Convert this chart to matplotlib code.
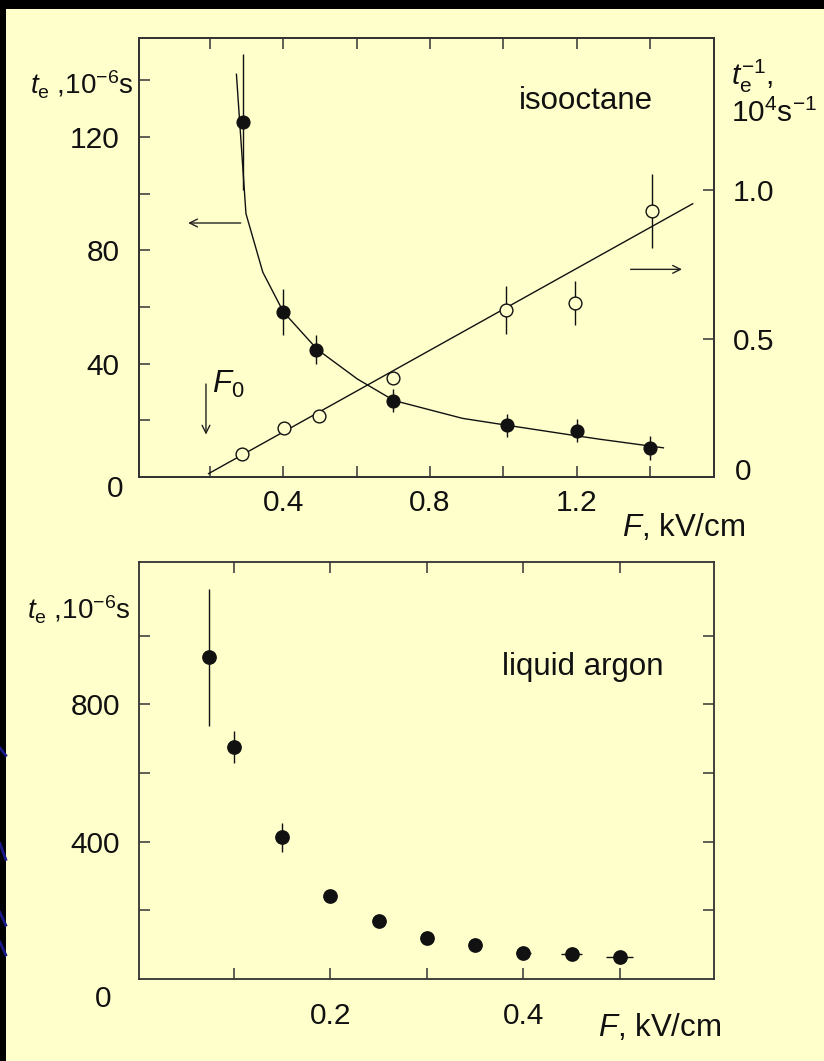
import matplotlib
matplotlib.use('Agg')
import matplotlib.pyplot as plt
import matplotlib.patches as mpatches
from matplotlib.lines import Line2D
from matplotlib.ticker import FixedLocator, NullFormatter

plt.rcParams['font.family'] = ['Liberation Sans', 'DejaVu Sans']
plt.rcParams['mathtext.fontset'] = 'custom'
plt.rcParams['mathtext.rm'] = 'Liberation Sans'
plt.rcParams['mathtext.it'] = 'Liberation Sans:italic'

CREAM = '#FFFFCC'
INK = '#111111'
SPINE = '#333333'

# ---------------- data: isooctane ----------------
iso_F = [0.29, 0.40, 0.49, 0.70, 1.01, 1.20, 1.40]
iso_te = [125.4, 58.3, 45.0, 27.0, 18.2, 16.4, 10.3]
iso_te_err = [24, 8, 5, 4, 4, 4, 4.2]

iso_fit_F = [0.272, 0.298, 0.344, 0.40, 0.493, 0.602, 0.702, 0.889, 1.014, 1.197, 1.26, 1.437]
iso_fit_te = [142.2, 93.0, 72.3, 58.3, 45.0, 34.6, 27.0, 20.7, 18.2, 14.6, 13.4, 10.3]

iso_inv_F = [0.287, 0.401, 0.496, 0.70, 1.008, 1.197, 1.405]
iso_inv = [0.110, 0.198, 0.240, 0.366, 0.597, 0.620, 0.931]
iso_inv_err = [0, 0, 0, 0, 0.08, 0.075, 0.125]

iso_line_F = [0.196, 1.517]
iso_line_inv = [0.044, 0.955]

# ---------------- data: liquid argon ----------------
ar_F = [0.074, 0.10, 0.15, 0.20, 0.25, 0.30, 0.35, 0.40, 0.45, 0.50]
ar_te = [938, 677, 413, 240, 168, 118.5, 99, 76, 71, 62]
ar_te_err = [200, 47, 42, 0, 0, 0, 0, 0, 0, 0]
ar_F_err = [0, 0, 0, 0, 0, 0, 0, 0.008, 0.011, 0.014]

# tick values
iso_x_major = [0.4, 0.8, 1.2]
iso_x_minor = [0.2, 0.6, 1.0, 1.4]
iso_y_major = [40, 80, 120]
iso_y_minor = [20, 60, 100, 140]
iso_r_major = [0.5, 1.0]
ar_x_major = [0.2, 0.4]
ar_x_minor = [0.1, 0.3, 0.5]
ar_y_major = [400, 800]
ar_y_minor = [200, 600, 1000]

FS = 21.5      # tick labels
FL = 22.5      # other text
FY = 20        # axis unit labels

fig = plt.figure(figsize=(8.24, 10.61), dpi=100, facecolor='black')
fig.patches.append(mpatches.Rectangle((6 / 824, 0), 1 - 6 / 824, 1 - 9 / 1061,
                                      transform=fig.transFigure, facecolor=CREAM,
                                      edgecolor='none', zorder=-10))
# faint decorative slide curves in the left strip
for (x0, y0, x1, y1) in [(0.0, 0.295, 0.007, 0.288), (0.0, 0.140, 0.007, 0.128),
                         (0.0, 0.112, 0.007, 0.100), (0.0, 0.205, 0.007, 0.190)]:
    fig.add_artist(Line2D([x0, x1], [y0, y1], transform=fig.transFigure,
                          color='#1a1a8a', lw=2, zorder=-5))


def style(ax):
    ax.set_facecolor('none')
    for s in ax.spines.values():
        s.set_color(SPINE)
        s.set_linewidth(1.3)
    ax.tick_params(which='both', direction='in', length=8, width=1.1,
                   color=SPINE, labelsize=FS, labelcolor=INK)


# ---------------- top panel ----------------
ax1 = fig.add_axes([139.3 / 824, 1 - 477 / 1061, 574.3 / 824, 439 / 1061])
style(ax1)
ax1.set_xlim(0.007, 1.574)
ax1.set_ylim(0, 155)
ax1.xaxis.set_major_locator(FixedLocator(iso_x_major))
ax1.xaxis.set_minor_locator(FixedLocator(iso_x_minor))
ax1.yaxis.set_major_locator(FixedLocator(iso_y_major))
ax1.yaxis.set_minor_locator(FixedLocator(iso_y_minor))
ax1.xaxis.set_minor_formatter(NullFormatter())
ax1.yaxis.set_minor_formatter(NullFormatter())
ax1.tick_params(axis='x', which='both', top=True, bottom=True, pad=9)
ax1.tick_params(axis='y', which='both', left=True, right=False, pad=14)

ax1.plot(iso_fit_F, iso_fit_te, color=INK, lw=1.0, zorder=2)
ax1.errorbar(iso_F, iso_te, yerr=iso_te_err, fmt='o', ms=9.2, mfc=INK, mec=INK,
             ecolor=INK, elinewidth=1.0, capsize=0, zorder=4)

ax2 = ax1.twinx()
style(ax2)
ax2.set_ylim(0.0326, 1.5145)
ax2.yaxis.set_major_locator(FixedLocator(iso_r_major))
ax2.yaxis.set_major_formatter(plt.FuncFormatter(lambda v, p: f'{v:.1f}'))
ax2.tick_params(axis='y', which='both', right=True, left=False, pad=14)
ax2.plot(iso_line_F, iso_line_inv, color=INK, lw=1.0, zorder=2)
ax2.errorbar(iso_inv_F, iso_inv, yerr=iso_inv_err, fmt='o', ms=9.2, mfc=CREAM, mec=INK,
             mew=1.0, ecolor=INK, elinewidth=1.0, capsize=0, zorder=4)

# labels
ax1.text(-0.1, 0.893, r'$t_{\rm e}$ ,10$^{-6}$s', transform=ax1.transAxes,
         ha='center', va='center', fontsize=FY, color=INK)
ax1.text(1.03, 0.912, r'$t_{\rm e}^{-1}$,', transform=ax1.transAxes,
         ha='left', va='center', fontsize=FS, color=INK)
ax1.text(1.03, 0.828, r'10$^4$s$^{-1}$', transform=ax1.transAxes,
         ha='left', va='center', fontsize=FS, color=INK)
ax1.text(0.947, -0.114, r'$F$, kV/cm', transform=ax1.transAxes,
         ha='center', va='center', fontsize=FL, color=INK)
ax1.text(0.778, 0.857, 'isooctane', transform=ax1.transAxes,
         ha='center', va='center', fontsize=FL, color=INK)
ax1.annotate('0', xy=(0, 0), xycoords='axes fraction', xytext=(-16, -12),
             textcoords='offset pixels', ha='right', va='center', fontsize=FS, color=INK)
ax1.annotate('0', xy=(1, 0), xycoords='axes fraction', xytext=(21, 5),
             textcoords='offset pixels', ha='left', va='center', fontsize=FS, color=INK)
# arrows
arr = dict(arrowstyle='->', color='#222222', lw=1.0, shrinkA=0, shrinkB=0,
           mutation_scale=14)
ax1.annotate('', xy=(0.085, 0.5786), xytext=(0.1766, 0.5786),
             xycoords='axes fraction', arrowprops=arr)
ax1.annotate('', xy=(0.945, 0.473), xytext=(0.8555, 0.473),
             xycoords='axes fraction', arrowprops=arr)
ax1.annotate('', xy=(0.1161, 0.0966), xytext=(0.1161, 0.2118),
             xycoords='axes fraction', arrowprops=arr)
ax1.text(0.126, 0.21, r'$F_0$', transform=ax1.transAxes,
         ha='left', va='center', fontsize=FL, color=INK)

# ---------------- bottom panel ----------------
ax3 = fig.add_axes([139.3 / 824, 1 - 978.7 / 1061, 574.3 / 824, 416.5 / 1061])
style(ax3)
ax3.set_xlim(0.002, 0.597)
ax3.set_ylim(0, 1215)
ax3.xaxis.set_major_locator(FixedLocator(ar_x_major))
ax3.xaxis.set_minor_locator(FixedLocator(ar_x_minor))
ax3.yaxis.set_major_locator(FixedLocator(ar_y_major))
ax3.yaxis.set_minor_locator(FixedLocator(ar_y_minor))
ax3.xaxis.set_minor_formatter(NullFormatter())
ax3.yaxis.set_minor_formatter(NullFormatter())
ax3.tick_params(axis='x', which='both', top=True, bottom=True, pad=17)
ax3.tick_params(axis='y', which='both', left=True, right=True, pad=14)

ax3.errorbar(ar_F, ar_te, yerr=ar_te_err, xerr=ar_F_err, fmt='o', ms=9.6,
             mfc=INK, mec=INK, ecolor=INK, elinewidth=1.0, capsize=0, zorder=4)

ax3.text(-0.105, 0.885, r'$t_{\rm e}$ ,10$^{-6}$s', transform=ax3.transAxes,
         ha='center', va='center', fontsize=FY, color=INK)
ax3.text(0.906, -0.118, r'$F$, kV/cm', transform=ax3.transAxes,
         ha='center', va='center', fontsize=FL, color=INK)
ax3.text(0.772, 0.748, 'liquid argon', transform=ax3.transAxes,
         ha='center', va='center', fontsize=FL, color=INK)
ax3.annotate('0', xy=(0, 0), xycoords='axes fraction', xytext=(-28, -20),
             textcoords='offset pixels', ha='right', va='center', fontsize=FS, color=INK)

fig.savefig('out.png', dpi=100, facecolor=fig.get_facecolor())
